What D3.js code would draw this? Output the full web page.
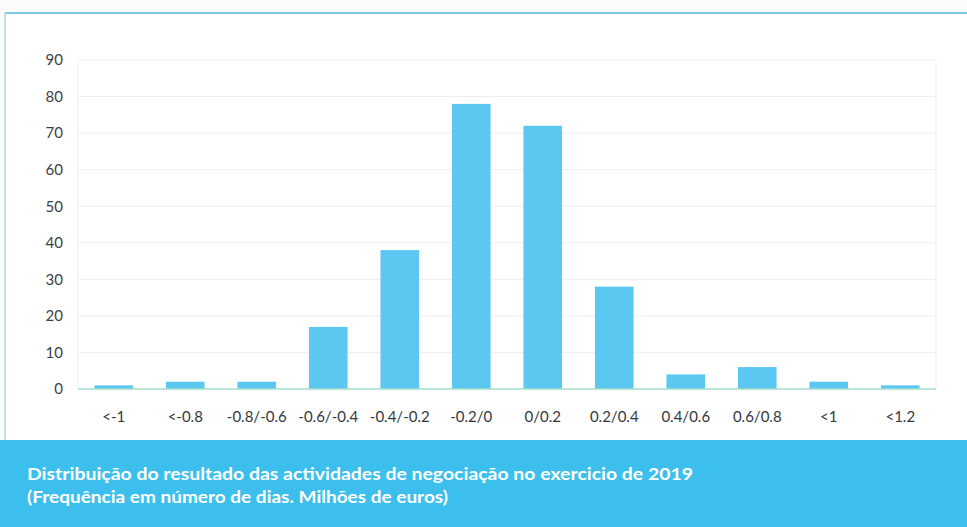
<!DOCTYPE html>
<html>
<head>
<meta charset="utf-8">
<script src="https://cdn.jsdelivr.net/npm/d3@7"></script>
<style>
  html, body { margin: 0; padding: 0; background: #fcfcfc; }
  svg { display: block; }
</style>
</head>
<body>
<svg id="chart" width="967" height="527"></svg>
<script>
const categories = ["<-1", "<-0.8", "-0.8/-0.6", "-0.6/-0.4", "-0.4/-0.2", "-0.2/0", "0/0.2", "0.2/0.4", "0.4/0.6", "0.6/0.8", "<1", "<1.2"];
const values = [1, 2, 2, 17, 38, 78, 72, 28, 4, 6, 2, 1];
const yTicks = [0, 10, 20, 30, 40, 50, 60, 70, 80, 90];
const titleLines = [
  "Distribuição do resultado das actividades de negociação no exercicio de 2019",
  "(Frequência em número de dias. Milhões de euros)"
];
const titleWidths = [666, 421];

const svg = d3.select("#chart");
const W = 967, H = 527;

// card background
svg.append("rect").attr("x", 5).attr("y", 13).attr("width", W - 5).attr("height", 427).attr("fill", "#ffffff");
svg.append("line").attr("x1", 5).attr("x2", W).attr("y1", 13).attr("y2", 13)
  .attr("stroke", "#7ec8e6").attr("stroke-width", 2);
svg.append("line").attr("x1", 5).attr("x2", 5).attr("y1", 13).attr("y2", 440)
  .attr("stroke", "#a9d3e3").attr("stroke-width", 1.5);

// footer band
svg.append("rect").attr("x", 0).attr("y", 440).attr("width", W).attr("height", H - 440).attr("fill", "#3dbfee");

const x = d3.scaleBand().domain(categories).range([78, 936]).paddingInner(0.46).paddingOuter(0.23);
const y = d3.scaleLinear().domain([0, 90]).range([389, 60]);

// gridlines
svg.append("g").selectAll("line").data(yTicks.filter(d => d > 0)).join("line")
  .attr("x1", 78).attr("x2", 936)
  .attr("y1", d => y(d)).attr("y2", d => y(d))
  .attr("stroke", "#eeeeee").attr("stroke-width", 1);
svg.append("line").attr("x1", 78).attr("x2", 78).attr("y1", 62).attr("y2", 389).attr("stroke", "#f0f0f0");
svg.append("line").attr("x1", 936).attr("x2", 936).attr("y1", 62).attr("y2", 389).attr("stroke", "#ececec");

// bars
svg.append("g").selectAll("rect").data(values).join("rect")
  .attr("x", (d, i) => x(categories[i]))
  .attr("y", d => y(d))
  .attr("width", x.bandwidth())
  .attr("height", d => y(0) - y(d))
  .attr("fill", "#5cc8f1");

// baseline
svg.append("line").attr("x1", 78).attr("x2", 936).attr("y1", y(0)).attr("y2", y(0))
  .attr("stroke", "#a6dccd").attr("stroke-width", 1.5);

// y axis labels
const yAxis = d3.axisLeft(y).tickValues(yTicks).tickSize(0).tickPadding(0);
const gy = svg.append("g").attr("transform", "translate(63,0)").call(yAxis);
gy.select(".domain").remove();
gy.selectAll("text").attr("font-family", "Lato, 'Open Sans', sans-serif").attr("font-size", 15)
  .attr("fill", "#3a3f45");

// x axis labels
const xAxis = d3.axisBottom(x).tickSize(0).tickPadding(0);
const gx = svg.append("g").attr("transform", "translate(0,411)").call(xAxis);
gx.select(".domain").remove();
gx.selectAll("text").attr("font-family", "Lato, 'Open Sans', sans-serif").attr("font-size", 15)
  .attr("fill", "#33383e");

// footer title
svg.append("g").selectAll("text").data(titleLines).join("text")
  .attr("x", 27).attr("y", (d, i) => 480 + i * 23)
  .attr("font-family", "Lato, 'Open Sans', sans-serif").attr("font-weight", "bold").attr("font-size", 17)
  .attr("textLength", (d, i) => titleWidths[i]).attr("lengthAdjust", "spacingAndGlyphs")
  .attr("fill", "#ffffff")
  .text(d => d);
</script>
</body>
</html>
